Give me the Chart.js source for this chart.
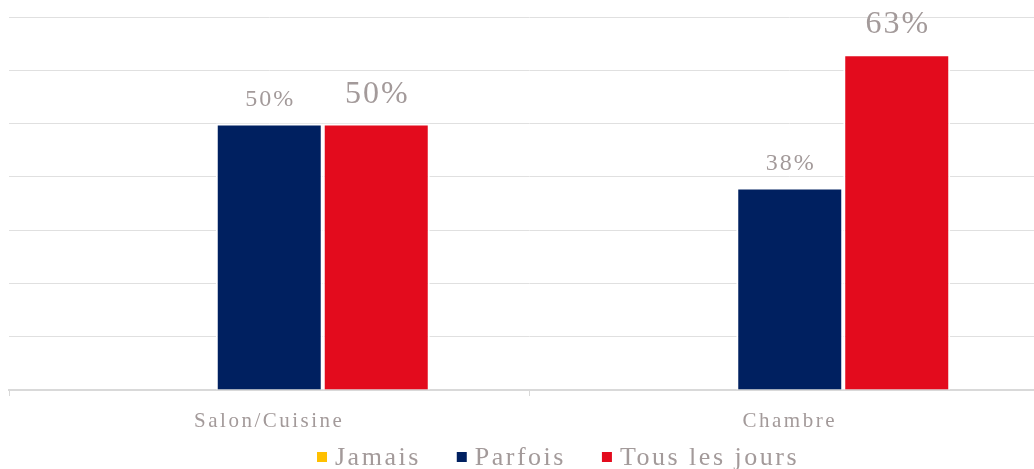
<!DOCTYPE html>
<html>
<head>
<meta charset="utf-8">
<script src="https://cdn.jsdelivr.net/npm/chart.js@4.4.1/dist/chart.umd.min.js"></script>
<style>
  html, body { margin: 0; padding: 0; background: #fff; overflow: hidden; }
  canvas { display: block; }
</style>
</head>
<body>
<canvas id="grafico" width="1060" height="469"></canvas>
<script>
// Datos del gráfico
const categorias = ['Salon/Cuisine', 'Chambre'];
const series = ['Jamais', 'Parfois', 'Tous les jours'];
const valJamais = [0, 0];
const valParfois = [50, 38];
const valTousLesJours = [50, 63];
const ticksY = [0, 10, 20, 30, 40, 50, 60, 70];

const FUENTE = "'Liberation Serif', 'Times New Roman', serif";
const GRIS_TEXTO = '#a39a9a';

// Espaciado de letras en el canvas (el original se ve espaciado)
const espaciado = {
    id: 'espaciado',
    beforeLayout(chart) { chart.ctx.letterSpacing = '2.5px'; },
    beforeDraw(chart) { chart.ctx.letterSpacing = '2.5px'; }
};

// Etiquetas de valor encima de las barras
const etiquetas = {
    id: 'etiquetas',
    afterDatasetsDraw(chart) {
        const ctx = chart.ctx;
        chart.data.datasets.forEach((ds, i) => {
            const meta = chart.getDatasetMeta(i);
            meta.data.forEach((bar, j) => {
                const v = ds.data[j];
                if (!v) return;
                ctx.save();
                ctx.letterSpacing = '2px';
                ctx.font = ds.labelSize + 'px ' + FUENTE;
                ctx.fillStyle = GRIS_TEXTO;
                ctx.textAlign = 'center';
                ctx.textBaseline = 'alphabetic';
                ctx.fillText(Math.round(v) + '%', bar.x + 1, bar.y - ds.labelGap);
                ctx.restore();
            });
        });
    }
};

// Leyenda dibujada a mano (para controlar espacios)
const leyenda = {
    id: 'leyenda',
    afterDraw(chart) {
        const ctx = chart.ctx;
        ctx.save();
        ctx.letterSpacing = '2.5px';
        ctx.font = '26px ' + FUENTE;
        const caja = 10, sep = 8, hueco = 36;
        const anchos = chart.data.datasets.map(ds => caja + sep + ctx.measureText(ds.label).width);
        const total = anchos.reduce((a, b) => a + b, 0) + hueco * (anchos.length - 1);
        let x = 558 - total / 2;
        const y = 457;
        chart.data.datasets.forEach((ds, i) => {
            ctx.fillStyle = ds.backgroundColor;
            ctx.fillRect(x, y - 5, caja, caja);
            ctx.fillStyle = GRIS_TEXTO;
            ctx.textAlign = 'left';
            ctx.textBaseline = 'middle';
            ctx.fillText(ds.label, x + caja + sep, y + 1);
            x += anchos[i] + hueco;
        });
        ctx.restore();
    }
};

const ctx = document.getElementById('grafico').getContext('2d');
new Chart(ctx, {
    type: 'bar',
    data: {
        labels: categorias,
        datasets: [
            {
                label: series[0],
                data: valJamais,
                backgroundColor: '#FFC000',
                borderWidth: 0,
                labelSize: 24,
                labelGap: 18
            },
            {
                label: series[1],
                data: valParfois,
                backgroundColor: '#002060',
                borderColor: '#ffffff',
                borderWidth: 2,
                labelSize: 24,
                labelGap: 18
            },
            {
                label: series[2],
                data: valTousLesJours,
                backgroundColor: '#E30B1D',
                borderColor: '#ffffff',
                borderWidth: 2,
                labelSize: 32,
                labelGap: 21
            }
        ]
    },
    options: {
        responsive: false,
        animation: false,
        devicePixelRatio: 1,
        categoryPercentage: 0.6167,
        barPercentage: 1,
        layout: {
            padding: { left: 9, right: 10, top: 17, bottom: 0 }
        },
        plugins: {
            legend: { display: false },
            tooltip: { enabled: false }
        },
        scales: {
            x: {
                grid: {
                    display: true,
                    drawOnChartArea: false,
                    drawTicks: true,
                    tickLength: 6,
                    color: '#d9d9d9',
                    offset: true
                },
                border: { display: true, color: '#d9d9d9', width: 2 },
                ticks: {
                    color: GRIS_TEXTO,
                    font: { family: FUENTE, size: 21 },
                    padding: 13,
                    maxRotation: 0
                },
                afterFit(scale) { scale.height = 79; }
            },
            y: {
                min: ticksY[0],
                max: ticksY[ticksY.length - 1],
                afterBuildTicks(scale) {
                    scale.ticks = ticksY.map(v => ({ value: v }));
                },
                ticks: { display: false },
                grid: { color: '#e0e0e0', drawTicks: false, lineWidth: 1 },
                border: { display: false },
                afterFit(scale) { scale.width = 0; }
            }
        }
    },
    plugins: [espaciado, etiquetas, leyenda]
});
</script>
</body>
</html>
